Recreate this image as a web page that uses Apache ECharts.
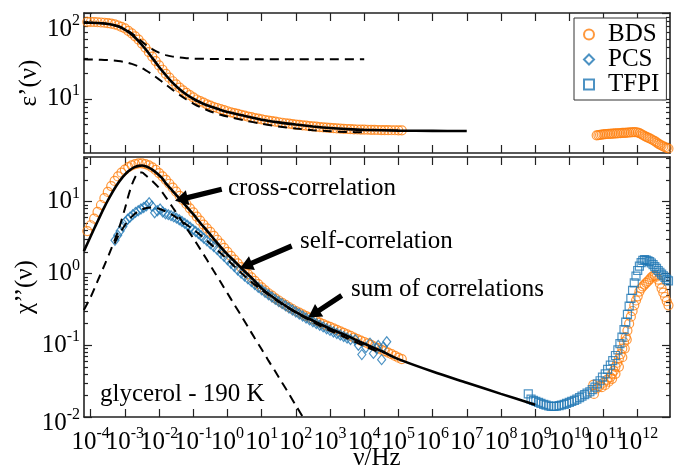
<!DOCTYPE html>
<html>
<head>
<meta charset="utf-8">
<script src="https://cdn.jsdelivr.net/npm/echarts@6/dist/echarts.min.js"></script>
<style>html,body{margin:0;padding:0;background:#fff}#c{width:681px;height:474px}</style>
</head>
<body>
<div id="c"></div>
<script>
// ---------- DATA (x values are log10(nu/Hz)) ----------
const bdsExp = [-4.1,-4.0,-3.9,-3.8,-3.7,-3.6,-3.5,-3.4,-3.3,-3.2,-3.1,-3.0,-2.9,-2.8,-2.7,-2.6,-2.5,-2.4,-2.3,-2.2,-2.1,-2.0,-1.9,-1.8,-1.7,-1.6,-1.5,-1.4,-1.3,-1.2,-1.1,-1.0,
  -0.9,-0.8,-0.7,-0.6,-0.5,-0.4,-0.3,-0.2,-0.1,0.0,0.1,0.2,0.3,0.4,0.5,0.6,0.7,0.8,0.9,1.0,1.1,1.2,1.3,1.4,1.5,1.6,1.7,1.8,1.9,2.0,
  2.1,2.2,2.3,2.4,2.5,2.6,2.7,2.8,2.9,3.0,3.1,3.2,3.3,3.4,3.5,3.6,3.7,3.8,3.9,4.0,4.1,4.2,4.3,4.4,4.5,4.6,4.7,4.8,4.9,5.0,5.1];
const bdsEps = [79,78.5,78.5,78,77.5,77,76,75,73.5,71.5,69,66,62,58,53.5,49,44,39.5,35,31,27.5,24.5,21.8,19.5,17.6,16.0,14.7,13.5,12.5,11.7,11.0,10.4,
  9.8,9.4,9.0,8.6,8.3,8.0,7.8,7.55,7.35,7.15,6.95,6.8,6.65,6.5,6.35,6.2,6.1,5.95,5.85,5.75,5.65,5.55,5.47,5.4,5.32,5.25,5.18,5.12,5.06,5.0,
  4.95,4.9,4.85,4.8,4.76,4.72,4.68,4.64,4.6,4.57,4.54,4.51,4.48,4.46,4.44,4.42,4.4,4.38,4.37,4.36,4.35,4.34,4.33,4.32,4.31,4.3,4.3,4.29,4.29,4.28,4.28];
const bdsChi = [3.9,4.7,5.8,7.2,9.0,11.2,13.7,16.5,19.5,22.5,25.4,28.0,30.3,32.2,33.5,34.2,34.2,33.4,32.0,30.1,27.7,25.1,22.6,20.1,17.8,15.7,13.8,12.1,10.6,9.3,8.1,7.1,
  6.2,5.45,4.8,4.25,3.8,3.35,2.95,2.6,2.27,2.0,1.76,1.56,1.38,1.23,1.10,0.98,0.88,0.79,0.71,0.64,0.58,0.53,0.49,0.45,0.42,0.39,0.365,0.34,0.32,0.30,
  0.285,0.27,0.255,0.242,0.23,0.218,0.207,0.197,0.188,0.18,0.172,0.164,0.156,0.149,0.142,0.135,0.128,0.122,0.116,0.111,0.106,0.101,0.096,0.091,0.087,0.083,0.079,0.075,0.071,0.067,0.064];
const bdsEpsHF = [[10.8,3.75],[10.85,3.77],[10.9,3.8],[10.95,3.82],[11.0,3.85],[11.05,3.86],[11.1,3.88],[11.15,3.89],[11.2,3.9],[11.25,3.91],[11.3,3.92],[11.35,3.94],[11.4,3.95],[11.45,3.96],[11.5,3.97],[11.55,3.99],[11.6,4.0],[11.65,4.01],[11.7,4.02],[11.75,4.04],[11.8,4.05],[11.85,4.07],[11.9,4.08],[11.95,4.07],[12.0,4.04],[12.05,3.97],[12.1,3.88],[12.15,3.78],[12.2,3.68],[12.25,3.6],[12.3,3.52],[12.35,3.45],[12.4,3.37],[12.45,3.28],[12.5,3.2],[12.55,3.1],[12.6,3.0],[12.65,2.92],[12.7,2.85],[12.75,2.78],[12.8,2.72],[12.85,2.67],[12.9,2.63],[12.95,2.6]];
const bdsChiHF = [[10.7,0.028],[10.72,0.021],[10.8,0.025],[10.88,0.027],[10.95,0.026],[11.0,0.03],[11.05,0.028],[11.1,0.033],[11.15,0.031],[11.2,0.036],[11.25,0.04],[11.25,0.034],[11.3,0.044],[11.35,0.05],[11.35,0.04],[11.4,0.057],[11.45,0.065],[11.45,0.05],[11.5,0.075],[11.55,0.09],[11.55,0.068],[11.6,0.11],[11.62,0.09],[11.65,0.13],[11.68,0.12],[11.7,0.16],[11.75,0.2],[11.8,0.25],[11.85,0.3],[11.9,0.36],[11.95,0.42],[12.0,0.48],[12.05,0.56],[12.1,0.62],[12.15,0.66],[12.2,0.7],[12.25,0.74],[12.3,0.78],[12.35,0.83],[12.4,0.88],[12.45,0.92],[12.5,0.93],[12.55,0.9],[12.6,0.82],[12.65,0.72],[12.7,0.62],[12.75,0.54],[12.8,0.47],[12.85,0.41],[12.9,0.36],[12.95,0.32]];
const pcsChi = [[-3.29,2.9],[-3.21,3.4],[-3.14,3.9],[-3.06,4.5],[-2.99,5.2],[-2.92,5.7],[-2.85,6.1],[-2.77,6.6],[-2.69,7.1],[-2.61,7.5],[-2.53,7.9],[-2.45,8.3],[-2.37,8.8],[-2.29,9.7],[-2.21,8.7],[-2.13,7.0],[-2.05,7.5],[-1.97,7.9],[-1.89,7.2],[-1.81,6.8],[-1.73,6.6],[-1.65,6.4],[-1.57,6.15],[-1.49,5.9],[-1.41,5.6],[-1.33,5.3],[-1.25,5.0],[-1.17,4.7],[-1.09,4.4],[-1.01,4.1],[-0.93,3.85],[-0.85,3.6],[-0.77,3.35],[-0.69,3.1],[-0.6,2.85],[-0.5,2.6],[-0.4,2.37],[-0.3,2.15],[-0.2,1.93],[-0.1,1.73],[0,1.55],[0.1,1.39],[0.2,1.25],[0.3,1.12],[0.4,1.01],[0.5,0.92],[0.6,0.84],[0.7,0.77],[0.8,0.7],[0.9,0.64],[1.0,0.59],[1.1,0.545],[1.2,0.505],[1.3,0.47],[1.4,0.435],[1.5,0.405],[1.6,0.38],[1.7,0.355],[1.8,0.33],[1.9,0.31],[2.0,0.29],[2.1,0.272],[2.2,0.255],[2.3,0.24],[2.4,0.226],[2.5,0.213],[2.6,0.201],[2.7,0.19],[2.8,0.18],[2.9,0.17],[3.0,0.161],[3.1,0.153],[3.2,0.146],[3.3,0.139],[3.4,0.132],[3.5,0.126],[3.6,0.12],[3.74,0.119],[3.83,0.1],[3.93,0.074],[4.05,0.093],[4.17,0.107],[4.27,0.077],[4.36,0.09],[4.41,0.099],[4.51,0.063],[4.56,0.095],[4.66,0.112]];
const tfpiChi = [[8.8,0.021],[8.88,0.0178],[8.95,0.017],[9.02,0.0165],[9.1,0.016],[9.17,0.0155],[9.25,0.015],[9.32,0.0146],[9.4,0.0143],[9.47,0.014],[9.55,0.014],[9.62,0.0142],[9.7,0.0144],[9.77,0.0147],[9.85,0.015],[9.92,0.0155],[10.0,0.016],[10.07,0.0165],[10.15,0.017],[10.22,0.0178],[10.3,0.0186],[10.37,0.0195],[10.45,0.0205],[10.52,0.0215],[10.6,0.0225],[10.67,0.024],[10.75,0.026],[10.82,0.029],[10.9,0.032],[10.97,0.036],[11.05,0.04],[11.12,0.046],[11.2,0.053],[11.27,0.061],[11.35,0.072],[11.42,0.086],[11.48,0.105],[11.54,0.13],[11.6,0.165],[11.65,0.21],[11.7,0.27],[11.75,0.35],[11.8,0.45],[11.85,0.58],[11.9,0.74],[11.95,0.92],[12.0,1.1],[12.05,1.27],[12.1,1.42],[12.15,1.52],[12.2,1.56],[12.25,1.54],[12.3,1.5],[12.35,1.46],[12.4,1.4],[12.45,1.33],[12.5,1.25],[12.55,1.18],[12.6,1.1],[12.65,1.04],[12.7,0.98],[12.75,0.93],[12.8,0.88],[12.85,0.83],[12.9,0.79],[12.95,0.75]];
// fits
const fitEpsSum = [[-4.2,77],[-4.0,77],[-3.8,76.5],[-3.6,75.5],[-3.4,73.5],[-3.2,70],[-3.0,64],[-2.8,56],[-2.6,47],[-2.4,38],[-2.2,30],[-2.0,23.5],[-1.8,18.8],[-1.6,15.3],[-1.4,12.9],[-1.2,11.2],[-1.0,10.0],[-0.8,9.1],[-0.6,8.4],[-0.4,7.9],[-0.2,7.4],[0,7.0],[0.5,6.3],[1.0,5.7],[1.5,5.3],[2.0,5.0],[2.5,4.75],[3.0,4.55],[3.5,4.42],[4.0,4.33],[5.0,4.25],[6.0,4.22],[7.0,4.2]];
const fitEpsA = [[-4.2,77],[-4.0,77],[-3.8,76.5],[-3.6,75.5],[-3.4,73.5],[-3.2,70],[-3.0,65],[-2.8,58],[-2.6,50],[-2.4,43],[-2.2,38],[-2.0,34.5],[-1.8,32.3],[-1.6,31],[-1.4,30.2],[-1.2,29.7],[-1.0,29.4],[-0.5,29.1],[0,29],[1,28.9],[2,28.9],[3,28.9],[4.0,28.9]];
const fitEpsB = [[-4.2,28.8],[-4.0,28.7],[-3.8,28.6],[-3.6,28.4],[-3.4,28.1],[-3.2,27.6],[-3.0,26.8],[-2.8,25.5],[-2.6,23.8],[-2.4,21.6],[-2.2,19.2],[-2.0,16.8],[-1.8,14.6],[-1.6,12.7],[-1.4,11.1],[-1.2,9.8],[-1.0,8.8],[-0.8,8.0],[-0.6,7.4],[-0.4,6.9],[-0.2,6.5],[0,6.2],[0.5,5.6],[1.0,5.1],[1.5,4.75],[2.0,4.5],[2.5,4.3],[3.0,4.18],[3.5,4.1],[4.0,4.05]];
const fitChiSum = [[-4.2,2.05],[-4.1,2.6],[-4.0,3.3],[-3.9,4.2],[-3.8,5.3],[-3.7,6.7],[-3.6,8.4],[-3.5,10.4],[-3.4,12.7],[-3.3,15.3],[-3.2,18.1],[-3.1,21.0],[-3.0,23.8],[-2.9,26.5],[-2.8,28.8],[-2.7,30.6],[-2.6,31.6],[-2.5,31.9],[-2.4,31.3],[-2.3,29.9],[-2.2,28.0],[-2.1,25.8],[-2.0,23.4],[-1.9,21.0],[-1.8,18.0],[-1.6,14.1],[-1.4,11.0],[-1.2,8.6],[-1.0,6.7],[-0.8,5.1],[-0.6,3.95],[-0.4,3.05],[-0.2,2.35],[0,1.85],[0.25,1.42],[0.5,1.08],[0.75,0.83],[1.0,0.62],[1.5,0.41],[2.0,0.29],[2.5,0.22],[3.0,0.17],[3.5,0.135],[4.0,0.105],[4.5,0.083],[5.0,0.064],[6.0,0.043],[7.0,0.030],[8.0,0.021],[9.0,0.0148]];
const fitChiCross = [[-4.2,0.31],[-4.0,0.47],[-3.8,0.78],[-3.6,1.3],[-3.4,2.2],[-3.2,3.9],[-3.0,8.0],[-2.9,12],[-2.8,17],[-2.7,22],[-2.6,25.3],[-2.5,25.5],[-2.4,23.5],[-2.2,19.5],[-2.0,15.5],[-1.8,11.5],[-1.6,8.3],[-1.4,6.0],[-1.2,4.3],[-1.0,3.1],[-0.8,2.2],[-0.6,1.55],[-0.4,1.08],[-0.2,0.76],[0,0.53],[0.2,0.37],[0.4,0.26],[0.6,0.18],[0.8,0.125],[1.0,0.088],[1.2,0.061],[1.4,0.043],[1.6,0.03],[1.8,0.021],[2.0,0.0145],[2.2,0.0101],[2.3,0.0085]];
const fitChiSelf = [[-3.3,2.6],[-3.2,3.3],[-3.0,4.7],[-2.8,6.2],[-2.6,7.4],[-2.4,8.1],[-2.2,8.3],[-2.0,8.0],[-1.8,7.3],[-1.6,6.5],[-1.4,5.6],[-1.2,4.8],[-1.0,4.1],[-0.8,3.45],[-0.6,2.85],[-0.4,2.35],[-0.2,1.92],[0,1.56],[0.2,1.26],[0.4,1.02],[0.6,0.84],[0.8,0.7],[1.0,0.59],[1.5,0.4],[2.0,0.285],[2.5,0.21],[3.0,0.16],[3.5,0.125],[4.0,0.098],[4.5,0.078]];
// ticks
const xMajor = [1e-4,1e-3,1e-2,1e-1,1,1e1,1e2,1e3,1e4,1e5,1e6,1e7,1e8,1e9,1e10,1e11,1e12];
const xLabelsEven = [1e-4,1e-2,1,1e2,1e4,1e6,1e8,1e10,1e12];
const xLabelsOdd = [1e-3,1e-1,1e1,1e3,1e5,1e7,1e9,1e11];
const yEpsMajor = [10,100];
const yEpsMinor = [3,4,5,6,7,8,9,20,30,40,50,60,70,80,90];
const yChiMajor = [0.01,0.1,1,10];
const yChiMinor = [0.02,0.03,0.04,0.05,0.06,0.07,0.08,0.09,0.2,0.3,0.4,0.5,0.6,0.7,0.8,0.9,2,3,4,5,6,7,8,9,20,30,40];
const annotations = ['cross-correlation','self-correlation','sum of correlations'];
const sampleLabel = 'glycerol - 190 K';

// ---------- helpers ----------
const FONT = '"Liberation Serif","Times New Roman",serif';
const ORANGE = '#ff7f0e', BLUE = '#1f77b4', AX = '#222';
const toXY = (exps, vals) => exps.map((e, i) => [Math.pow(10, e), vals[i]]);
const pairs = arr => arr.map(p => [Math.pow(10, p[0]), p[1]]);
const X_MIN = Math.pow(10, -4.196), X_MAX = Math.pow(10, 12.945);
const EPS_MIN = 2.33, EPS_MAX = 100;
const CHI_MIN = 0.01, CHI_MAX = 42;
const rich = {
  b: {fontSize: 25, fontFamily: FONT, color: '#000'},
  s: {fontSize: 16, fontFamily: FONT, color: '#000', padding: [0, 0, 16, 0]}
};
const pow10 = v => { const p = Math.round(Math.log10(v)); return '{b|10}{s|' + p + '}'; };
const nameStyle = {fontFamily: FONT, fontSize: 25, color: '#000'};

function xAx(grid, pos, opts) {
  opts = opts || {};
  return Object.assign({
    type: 'log', gridIndex: grid, position: pos, min: X_MIN, max: X_MAX,
    axisLine: {show: opts.line !== false, onZero: false, lineStyle: {color: AX, width: 1.6}},
    axisTick: {show: opts.tick !== false, inside: true, length: 8, customValues: xMajor, lineStyle: {color: AX, width: 1.2}},
    axisLabel: opts.labels ? {show: true, customValues: opts.labels, formatter: pow10, rich: rich, margin: 9, interval: 0} : {show: false},
    splitLine: {show: false}, minorTick: {show: false}
  }, opts.extra || {});
}
function yAx(grid, pos, min, max, ticks, len, opts) {
  opts = opts || {};
  return Object.assign({
    type: 'log', gridIndex: grid, position: pos, min: min, max: max,
    axisLine: {show: opts.line !== false, onZero: false, lineStyle: {color: AX, width: 1.6}},
    axisTick: {show: true, inside: true, length: len, customValues: ticks, lineStyle: {color: AX, width: 1.2}},
    axisLabel: opts.labels ? Object.assign({show: true, customValues: opts.labels, formatter: pow10, rich: rich, margin: 4}, opts.labelExtra || {}) : {show: false},
    splitLine: {show: false}, minorTick: {show: false}
  }, opts.extra || {});
}
function arrow(x1, y1, x2, y2) {
  const dx = x2 - x1, dy = y2 - y1, L = Math.hypot(dx, dy), ux = dx / L, uy = dy / L, nx = -uy, ny = ux;
  const w = 2.6, hl = 13, hw = 7.5, bx = x2 - ux * hl, by = y2 - uy * hl;
  return {type: 'polygon', z: 100, shape: {points: [
    [x1 + nx * w, y1 + ny * w], [bx + nx * w, by + ny * w], [bx + nx * hw, by + ny * hw], [x2, y2],
    [bx - nx * hw, by - ny * hw], [bx - nx * w, by - ny * w], [x1 - nx * w, y1 - ny * w]]}, style: {fill: '#000'}};
}
function text(str, x, y) {
  return {type: 'text', z: 100, x: x, y: y, style: {text: str, font: '25px ' + FONT, fill: '#000', verticalAlign: 'middle', align: 'left'}};
}
const hollow = (c) => ({color: 'rgba(0,0,0,0)', borderColor: c, borderWidth: 1.2});
const scatter = (name, xi, yi, data, sym, size, c) => ({name: name, type: 'scatter', xAxisIndex: xi, yAxisIndex: yi, data: data, symbol: sym, symbolSize: size, itemStyle: hollow(c), z: 2});
const line = (xi, yi, data, dashed) => ({type: 'line', xAxisIndex: xi, yAxisIndex: yi, data: data, showSymbol: false, symbol: 'none', smooth: 0.3, z: 5,
  lineStyle: {color: '#000', width: dashed ? 2 : 2.6, type: dashed ? [9, 6] : 'solid'}});

const chart = echarts.init(document.getElementById('c'), null, {renderer: 'canvas'});
chart.setOption({
  animation: false,
  backgroundColor: '#fff',
  grid: [
    {left: 84, right: 11, top: 13, height: 140, outerBoundsMode: 'none', containLabel: false},
    {left: 84, right: 11, top: 157, height: 260, outerBoundsMode: 'none', containLabel: false}
  ],
  xAxis: [
    xAx(0, 'bottom'),
    xAx(0, 'top'),
    xAx(1, 'bottom', {labels: xLabelsEven, extra: {name: 'ν/Hz', nameLocation: 'middle', nameGap: 29, nameMoveOverlap: false, nameTextStyle: nameStyle}}),
    xAx(1, 'top'),
    xAx(1, 'bottom', {labels: xLabelsOdd, line: false, tick: false})
  ],
  yAxis: [
    yAx(0, 'left', EPS_MIN, EPS_MAX, yEpsMajor, 8, {labels: [10], extra: {name: 'ε’(ν)', nameLocation: 'middle', nameGap: 42, nameMoveOverlap: false, nameTextStyle: nameStyle}}),
    yAx(0, 'left', EPS_MIN, EPS_MAX, yEpsMinor, 4, {line: false, labels: [100], labelExtra: {padding: [32, 0, 0, 0]}}),
    yAx(0, 'right', EPS_MIN, EPS_MAX, yEpsMajor, 8),
    yAx(0, 'right', EPS_MIN, EPS_MAX, yEpsMinor, 4, {line: false}),
    yAx(1, 'left', CHI_MIN, CHI_MAX, yChiMajor, 8, {labels: [0.1, 1, 10], extra: {name: 'χ’’(ν)', nameLocation: 'middle', nameGap: 46, nameMoveOverlap: false, nameTextStyle: nameStyle}}),
    yAx(1, 'left', CHI_MIN, CHI_MAX, yChiMinor, 4, {line: false, labels: [0.01], labelExtra: {padding: [12, 0, 0, 0]}}),
    yAx(1, 'right', CHI_MIN, CHI_MAX, yChiMajor, 8),
    yAx(1, 'right', CHI_MIN, CHI_MAX, yChiMinor, 4, {line: false})
  ],
  legend: {
    left: 574, top: 18, orient: 'vertical', data: ['BDS', 'PCS', 'TFPI'], selectedMode: false,
    itemWidth: 10, itemHeight: 10, itemGap: 0, padding: [4, 7, 3, 9], symbolKeepAspect: true,
    borderColor: '#333', borderWidth: 1, backgroundColor: '#fff',
    textStyle: {fontFamily: FONT, fontSize: 25, color: '#000', lineHeight: 22, padding: [0, 0, 0, 9]}
  },
  series: [
    scatter('BDS', 0, 0, toXY(bdsExp, bdsEps), 'circle', 9, ORANGE),
    scatter('BDS', 0, 0, pairs(bdsEpsHF), 'circle', 9, ORANGE),
    scatter('BDS', 2, 4, toXY(bdsExp, bdsChi), 'circle', 9, ORANGE),
    scatter('BDS', 2, 4, pairs(bdsChiHF), 'circle', 9, ORANGE),
    scatter('PCS', 2, 4, pairs(pcsChi), 'diamond', [8, 10], BLUE),
    scatter('TFPI', 2, 4, pairs(tfpiChi), 'rect', 8, BLUE),
    line(0, 0, pairs(fitEpsSum), false),
    line(0, 0, pairs(fitEpsA), true),
    line(0, 0, pairs(fitEpsB), true),
    line(2, 4, pairs(fitChiSum), false),
    line(2, 4, pairs(fitChiCross), true),
    line(2, 4, pairs(fitChiSelf), true)
  ],
  graphic: [
    text(annotations[0], 228, 188), arrow(221.7, 189.3, 175, 200.7),
    text(annotations[1], 300, 241.5), arrow(291.7, 246, 240, 268.3),
    text(annotations[2], 351, 289.5), arrow(341.7, 295.5, 308.3, 317.5),
    text(sampleLabel, 100, 394)
  ]
});
</script>
</body>
</html>
